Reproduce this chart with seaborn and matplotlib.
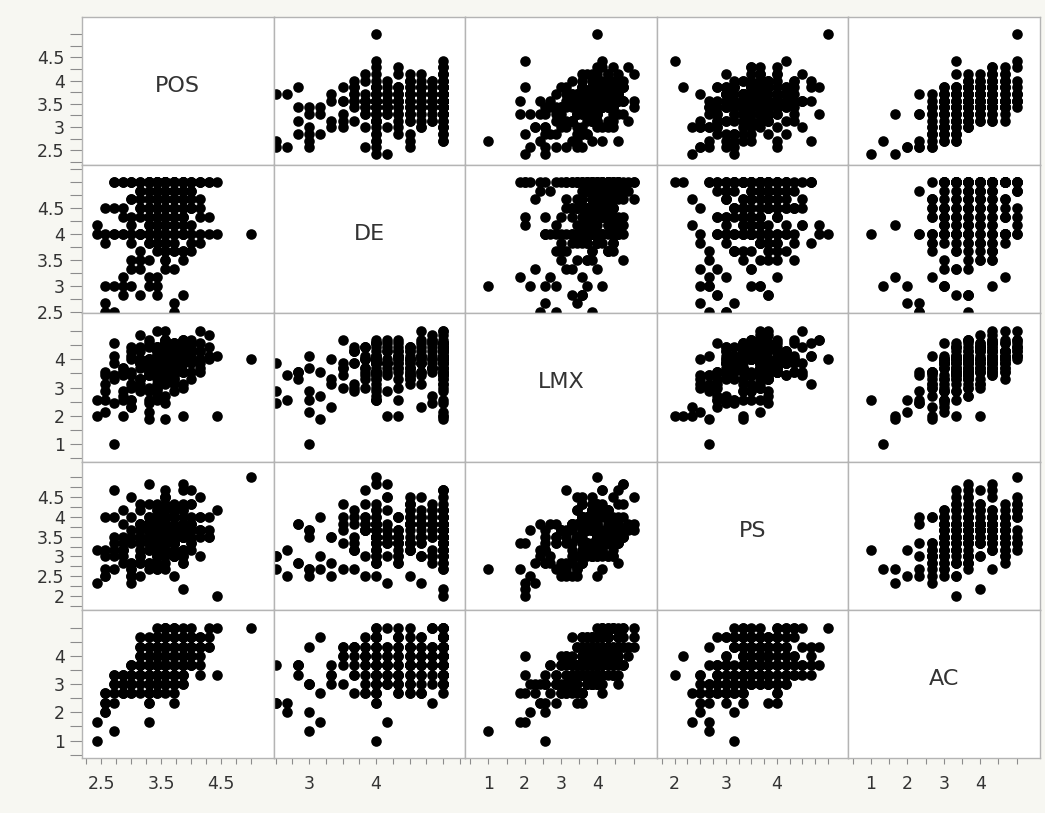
import matplotlib
matplotlib.use("Agg")
import matplotlib.pyplot as plt
import seaborn as sns
import pandas as pd
import numpy as np

# =========================================================
# Scatterplot matrix: POS, DE, LMX, PS, AC
# =========================================================

variables = ["POS", "DE", "LMX", "PS", "AC"]

# Values (one entry per respondent)
pos = [
    5.0, 2.43, 2.71, 2.43, 2.57, 2.57, 2.71, 3.29, 4.43, 4.43,
    2.86, 2.86, 3.0, 2.57, 2.71, 2.86, 3.0, 2.71, 2.57, 3.0,
    3.14, 3.14, 3.0, 3.29, 3.14, 2.86, 3.29, 3.14, 3.0, 3.29,
    3.43, 3.57, 3.57, 3.43, 3.71, 3.57, 3.43, 3.71, 3.57, 3.86,
    3.57, 3.43, 3.71, 3.57, 3.86, 3.43, 3.71, 3.57, 3.29, 3.71,
    3.57, 3.43, 3.86, 3.57, 3.71, 3.43, 3.57, 4.0, 3.29, 3.71,
    3.57, 3.43, 3.86, 3.57, 3.71, 3.43, 4.0, 3.57, 3.71, 3.29,
    4.0, 4.14, 4.14, 4.0, 4.29, 4.14, 4.0, 4.29, 4.0, 4.14,
    3.43, 3.57, 3.29, 3.57, 3.43, 3.71, 3.14, 3.57, 3.86, 3.29,
    3.71, 3.57, 3.43, 3.86, 3.57, 3.71, 3.43, 3.57, 3.86, 3.43,
    3.29, 3.57, 3.71, 3.43, 3.86, 3.57, 3.14, 3.71, 3.57, 3.86,
    3.14, 3.29, 3.43, 3.0, 3.29, 3.14, 3.43, 3.0, 3.29, 2.86,
    3.71, 3.57, 3.86, 3.43, 4.0, 3.71, 3.57, 3.86, 3.43, 3.71,
    4.14, 4.29, 3.86, 3.29, 4.0, 2.71, 3.14, 4.14, 3.57, 3.86,
    3.43, 3.57, 3.71, 3.29, 3.86, 3.57, 3.43, 3.71, 3.14, 3.57,
    3.0, 2.71, 3.86, 3.29, 3.57, 3.43, 3.71, 4.0, 3.29, 3.57,
    2.86, 3.0, 2.57, 3.14, 2.86, 3.86, 3.43, 4.0, 3.29, 3.71,
    3.57, 3.86, 3.43, 3.71, 2.71, 3.0, 3.57, 4.14, 3.43, 3.71,
    3.29, 3.14, 2.86, 4.29, 3.71, 3.57, 3.86, 3.43, 4.0, 3.57,
    3.14, 2.86, 3.43, 3.57, 3.29, 3.71, 2.57, 3.0, 3.86, 3.43,
    3.57, 3.71, 3.43, 3.57, 3.86, 3.43, 3.71, 3.57, 3.86, 3.29,
    3.57, 4.0, 3.71, 3.43, 3.86, 3.14, 4.14, 3.57, 3.0, 3.71,
    3.29, 3.43, 3.57, 3.71, 3.86, 3.14, 3.43, 3.57, 3.71, 4.0,
    3.57, 3.43, 3.29, 3.86, 3.71, 3.57, 3.14, 3.86, 3.43, 3.71,
]
de = [
    4.0, 4.0, 3.0, 4.17, 2.67, 3.0, 2.5, 3.17, 5.0, 4.0,
    3.17, 2.83, 3.33, 2.5, 4.0, 4.33, 3.83, 4.5, 4.0, 3.0,
    4.0, 5.0, 4.67, 3.5, 4.0, 5.0, 4.83, 4.5, 5.0, 4.17,
    4.0, 4.5, 5.0, 4.83, 5.0, 4.0, 4.67, 4.33, 5.0, 4.0,
    3.83, 5.0, 4.5, 4.0, 5.0, 4.17, 4.83, 4.67, 4.0, 5.0,
    3.67, 4.5, 4.33, 5.0, 4.0, 4.83, 4.17, 5.0, 4.5, 4.67,
    4.0, 5.0, 4.83, 3.83, 4.5, 4.0, 5.0, 4.33, 5.0, 4.67,
    4.5, 5.0, 4.0, 4.83, 5.0, 4.67, 5.0, 4.33, 3.83, 5.0,
    2.83, 3.33, 5.0, 5.0, 3.0, 2.67, 3.5, 5.0, 3.5, 4.0,
    4.17, 4.67, 5.0, 4.5, 4.83, 4.0, 4.33, 5.0, 4.0, 4.5,
    5.0, 4.0, 5.0, 4.17, 4.83, 3.83, 4.5, 4.67, 4.0, 5.0,
    3.67, 4.33, 4.0, 3.5, 4.0, 4.83, 5.0, 4.0, 3.83, 4.5,
    3.33, 3.5, 3.67, 3.17, 4.17, 4.33, 4.5, 4.67, 5.0, 4.83,
    4.5, 4.0, 5.0, 4.17, 3.67, 5.0, 4.83, 4.33, 5.0, 4.0,
    4.67, 5.0, 4.5, 5.0, 4.33, 4.0, 4.83, 5.0, 4.0, 4.33,
    5.0, 4.0, 4.67, 5.0, 3.67, 4.0, 4.33, 4.83, 4.5, 5.0,
    3.0, 5.0, 4.5, 2.83, 4.0, 5.0, 4.17, 4.0, 3.83, 2.5,
    5.0, 5.0, 4.0, 4.5, 5.0, 4.17, 3.5, 3.83, 4.67, 5.0,
    5.0, 5.0, 5.0, 5.0, 3.67, 3.83, 4.33, 4.5, 4.67, 4.17,
    3.33, 4.0, 3.67, 4.83, 3.0, 4.0, 3.83, 4.67, 2.83, 4.33,
    4.5, 4.0, 4.83, 4.33, 4.17, 5.0, 4.67, 4.0, 5.0, 4.33,
    5.0, 4.5, 4.83, 3.83, 4.0, 4.67, 5.0, 4.17, 4.33, 3.67,
    4.5, 5.0, 4.33, 4.83, 4.67, 4.0, 3.83, 5.0, 4.17, 4.5,
    4.0, 4.67, 5.0, 3.67, 5.0, 4.83, 4.33, 4.5, 4.17, 3.83,
]
lmx = [
    4.0, 2.57, 1.0, 2.0, 2.57, 2.14, 2.43, 1.86, 2.0, 4.14,
    2.71, 3.57, 2.29, 2.86, 3.43, 2.0, 3.0, 3.29, 3.57, 2.57,
    3.0, 3.29, 3.57, 3.71, 3.86, 3.43, 2.43, 4.29, 3.14, 3.43,
    3.86, 4.0, 4.14, 3.71, 4.29, 3.57, 4.43, 3.86, 4.0, 4.57,
    3.71, 4.14, 4.0, 3.43, 4.43, 3.86, 4.29, 4.71, 3.57, 4.0,
    3.86, 3.29, 4.14, 3.71, 3.57, 4.0, 4.29, 4.57, 3.43, 4.14,
    4.0, 3.86, 4.71, 3.29, 4.43, 3.57, 4.29, 3.71, 3.86, 3.43,
    4.43, 4.57, 4.0, 4.71, 4.86, 3.86, 4.29, 4.43, 4.14, 5.0,
    3.57, 3.14, 2.14, 1.86, 4.14, 3.43, 3.86, 2.43, 3.0, 4.57,
    3.71, 3.86, 4.29, 4.0, 3.57, 4.43, 4.0, 4.71, 3.86, 3.71,
    4.0, 4.14, 3.57, 4.29, 4.14, 4.0, 3.86, 4.57, 3.29, 4.29,
    2.86, 3.0, 2.71, 3.43, 2.57, 3.71, 3.0, 4.0, 3.57, 3.71,
    4.0, 3.71, 4.43, 3.57, 4.0, 3.29, 3.43, 3.86, 4.43, 4.0,
    3.57, 4.0, 3.14, 4.71, 3.86, 4.14, 4.86, 4.29, 5.0, 4.71,
    3.14, 3.43, 3.71, 2.86, 3.57, 4.14, 3.86, 3.29, 3.14, 4.57,
    4.29, 3.86, 4.0, 3.71, 4.29, 4.14, 3.71, 4.57, 4.0, 3.57,
    2.86, 2.57, 3.14, 3.29, 3.57, 2.0, 2.86, 3.29, 4.0, 3.86,
    4.43, 3.86, 4.29, 3.43, 4.57, 4.43, 4.71, 3.71, 5.0, 4.57,
    3.86, 4.43, 3.71, 4.14, 3.14, 4.43, 4.71, 4.14, 3.57, 3.86,
    3.29, 2.57, 3.0, 2.71, 3.71, 2.86, 3.43, 2.29, 3.57, 2.57,
    3.86, 4.0, 3.71, 4.14, 3.86, 4.0, 4.29, 3.71, 4.14, 3.86,
    4.57, 4.0, 4.43, 4.0, 4.57, 4.0, 4.29, 3.57, 4.14, 4.29,
    4.43, 3.57, 4.29, 3.71, 4.14, 3.86, 4.43, 3.43, 4.57, 4.29,
    3.57, 4.14, 3.71, 4.29, 3.86, 4.57, 4.0, 3.57, 3.86, 4.43,
]
ps = [
    5.0, 3.17, 2.67, 2.33, 3.17, 2.5, 3.0, 2.67, 2.0, 4.17,
    3.0, 3.83, 2.83, 2.67, 3.5, 3.33, 2.5, 3.17, 4.0, 3.67,
    3.67, 2.83, 4.0, 3.33, 3.0, 4.17, 3.83, 3.33, 2.67, 3.5,
    3.17, 4.0, 3.33, 3.83, 3.5, 4.33, 3.0, 3.67, 3.5, 3.83,
    3.67, 3.17, 4.17, 3.5, 3.83, 3.33, 4.0, 3.5, 3.83, 3.0,
    3.17, 3.83, 3.5, 4.0, 3.33, 3.67, 4.17, 3.83, 3.5, 3.0,
    3.5, 4.17, 3.67, 3.83, 3.33, 3.0, 4.0, 3.67, 3.17, 3.83,
    3.83, 4.0, 3.5, 4.33, 3.67, 4.5, 3.33, 4.0, 4.67, 3.67,
    2.83, 3.5, 3.67, 3.33, 2.67, 2.5, 4.33, 3.17, 3.67, 2.83,
    3.33, 4.0, 3.5, 3.17, 3.83, 3.67, 3.0, 3.5, 4.17, 3.83,
    3.83, 3.33, 4.0, 3.5, 3.17, 3.67, 4.17, 3.33, 3.83, 3.0,
    3.5, 2.83, 3.83, 2.67, 3.33, 3.0, 3.67, 2.5, 4.0, 3.17,
    3.5, 3.83, 3.17, 4.0, 3.67, 3.33, 4.5, 3.0, 3.67, 4.17,
    4.0, 3.5, 4.67, 4.83, 3.17, 4.67, 3.83, 3.0, 4.5, 4.83,
    3.67, 2.67, 3.33, 3.83, 2.83, 3.5, 4.17, 3.0, 2.83, 3.33,
    3.33, 4.0, 3.5, 3.17, 3.83, 3.67, 4.0, 3.5, 3.17, 3.83,
    3.5, 2.83, 2.5, 3.83, 3.17, 2.17, 3.33, 3.67, 4.33, 3.0,
    3.67, 4.17, 3.5, 3.83, 3.33, 4.5, 4.0, 3.67, 3.83, 4.33,
    4.0, 3.5, 3.17, 3.5, 3.33, 3.67, 3.5, 4.33, 3.83, 3.0,
    2.5, 2.83, 2.67, 2.83, 3.67, 3.33, 3.0, 2.33, 2.83, 3.5,
    3.67, 3.5, 3.83, 4.0, 3.67, 3.33, 4.17, 3.83, 3.5, 3.67,
    4.67, 4.33, 3.0, 4.0, 3.83, 3.83, 3.67, 4.5, 3.5, 4.17,
    3.83, 3.67, 3.33, 4.0, 3.5, 3.67, 3.83, 4.17, 3.5, 3.33,
    3.5, 3.33, 3.83, 4.0, 3.67, 3.5, 3.17, 4.33, 3.83, 3.67,
]
ac = [
    5.0, 1.0, 1.33, 1.67, 2.0, 2.0, 2.33, 1.67, 3.33, 5.0,
    2.67, 3.33, 3.0, 2.33, 3.33, 2.67, 3.0, 2.67, 2.33, 3.0,
    3.67, 3.33, 2.67, 4.0, 3.0, 3.33, 2.33, 4.33, 3.0, 3.67,
    4.33, 3.67, 5.0, 3.0, 4.0, 4.67, 3.33, 4.33, 3.67, 4.0,
    3.67, 4.67, 3.0, 4.33, 4.0, 3.33, 5.0, 3.67, 4.33, 3.0,
    4.33, 3.67, 3.0, 4.67, 3.33, 4.0, 5.0, 4.33, 3.67, 2.67,
    3.0, 4.33, 3.67, 4.0, 5.0, 2.67, 4.33, 3.33, 4.67, 3.67,
    4.0, 4.67, 3.67, 5.0, 4.33, 3.33, 4.67, 5.0, 3.67, 4.33,
    3.67, 3.33, 3.0, 2.67, 4.33, 2.33, 4.0, 3.0, 3.67, 4.67,
    4.0, 3.0, 4.67, 3.67, 4.33, 3.33, 4.0, 5.0, 3.0, 4.33,
    4.33, 3.67, 4.0, 3.33, 5.0, 4.67, 3.67, 4.0, 3.0, 4.67,
    3.33, 2.67, 3.67, 3.0, 2.33, 3.67, 4.0, 3.33, 2.67, 3.0,
    3.67, 4.33, 3.33, 4.67, 4.0, 3.0, 4.33, 3.67, 5.0, 3.33,
    4.33, 4.67, 4.0, 3.67, 4.33, 3.33, 4.0, 4.67, 5.0, 4.33,
    4.0, 3.67, 4.33, 3.0, 3.33, 4.67, 4.0, 3.67, 2.67, 4.33,
    3.67, 3.0, 4.33, 3.33, 4.0, 4.67, 3.67, 4.33, 3.0, 4.0,
    3.0, 3.33, 2.67, 3.67, 2.67, 4.0, 3.0, 4.67, 3.33, 3.67,
    4.0, 4.67, 3.67, 3.33, 3.0, 3.67, 4.33, 4.0, 4.67, 5.0,
    3.67, 4.33, 3.33, 4.33, 3.67, 4.0, 4.67, 3.33, 3.67, 3.0,
    3.33, 3.0, 2.67, 3.67, 3.0, 3.33, 2.67, 2.67, 3.67, 3.0,
    3.67, 4.0, 4.33, 3.33, 4.33, 3.67, 4.0, 4.67, 3.67, 4.0,
    4.33, 3.67, 4.0, 4.33, 3.33, 4.67, 4.33, 3.67, 3.67, 4.33,
    4.0, 3.33, 4.67, 3.67, 4.33, 3.33, 4.0, 3.67, 4.33, 4.67,
    3.67, 4.0, 3.33, 4.33, 4.67, 3.67, 3.33, 4.0, 3.0, 4.33,
]

# Axis settings per variable (limits, tick spacing, labelled ticks)
axis_limits = {
    "POS": (2.18, 5.37), "DE": (2.47, 5.33), "LMX": (0.36, 5.64),
    "PS": (1.65, 5.40), "AC": (0.38, 5.64),
}
tick_range = {
    "POS": (2.25, 5.0, 0.25), "DE": (2.5, 5.25, 0.25), "LMX": (0.5, 5.0, 0.5),
    "PS": (1.75, 5.0, 0.25), "AC": (0.5, 5.0, 0.5),
}
y_labels = {
    "POS": [2.5, 3, 3.5, 4, 4.5], "DE": [2.5, 3, 3.5, 4, 4.5],
    "LMX": [1, 2, 3, 4], "PS": [2, 2.5, 3, 3.5, 4, 4.5], "AC": [1, 2, 3, 4],
}
x_labels = {
    "POS": [2.5, 3.5, 4.5], "DE": [3, 4], "LMX": [1, 2, 3, 4],
    "PS": [2, 3, 4], "AC": [1, 2, 3, 4],
}


def tick_positions(var):
    start, stop, step = tick_range[var]
    return np.arange(start, stop + 1e-9, step)


def tick_texts(var, labelled):
    return [f"{t:g}" if any(abs(t - v) < 1e-6 for v in labelled) else ""
            for t in tick_positions(var)]


df = pd.DataFrame({"POS": pos, "DE": de, "LMX": lmx, "PS": ps, "AC": ac})

sns.set_theme(style="white")
plt.rcParams["font.family"] = ["DejaVu Sans"]

g = sns.PairGrid(df, vars=variables, height=1.6, aspect=1.3, despine=False)
g.map_offdiag(sns.scatterplot, color="black", s=58, linewidth=0)

fig = g.figure
fig.set_size_inches(10.45, 8.13)
fig.patch.set_facecolor("#f7f7f2")
fig.subplots_adjust(left=82 / 1045, right=1040 / 1045,
                    bottom=1 - 758 / 813, top=1 - 17 / 813,
                    wspace=0, hspace=0)

n = len(variables)
for i, row_var in enumerate(variables):
    for j, col_var in enumerate(variables):
        ax = g.axes[i, j]
        ax.set_facecolor("white")
        ax.set_xlabel("")
        ax.set_ylabel("")
        for spine in ax.spines.values():
            spine.set_color("#b4b4b4")
            spine.set_linewidth(1.0)
        ax.tick_params(axis="x", bottom=(i == n - 1), length=4.5, width=0.8,
                       color="#8c8c8c", pad=8, labelsize=12.5,
                       labelcolor="#333333")
        ax.tick_params(axis="y", left=(j == 0), length=8.5, width=0.8,
                       color="#8c8c8c", pad=4, labelsize=12.5,
                       labelcolor="#333333")
        if i == j:
            ax.text(0.5, 0.535, col_var, transform=ax.transAxes,
                    ha="center", va="center", fontsize=16, color="#333333")

for j, var in enumerate(variables):
    ax = g.axes[n - 1, j]
    ax.set_xlim(axis_limits[var])
    ax.set_xticks(tick_positions(var), tick_texts(var, x_labels[var]))

for i, var in enumerate(variables):
    ax = g.axes[i, 0]
    ax.set_ylim(axis_limits[var])
    ax.set_yticks(tick_positions(var), tick_texts(var, y_labels[var]))

fig.savefig("out.png", dpi=100, facecolor=fig.get_facecolor())
plt.close(fig)
